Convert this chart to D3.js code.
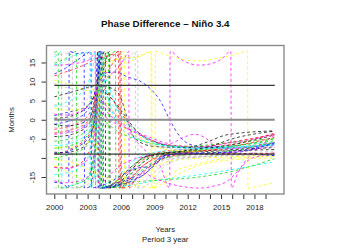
<!DOCTYPE html>
<html>
<head>
<meta charset="utf-8">
<script src="https://cdn.jsdelivr.net/npm/d3@7"></script>
<style>
body { margin: 0; background: #fff; }
svg { display: block; font-family: "Liberation Sans", Arial, Helvetica, sans-serif; }
</style>
</head>
<body>
<svg width="350" height="250"></svg>
<script>
// Axis ticks
var yearTicks = [2000, 2001, 2002, 2003, 2004, 2005, 2006, 2007, 2008, 2009,
                 2010, 2011, 2012, 2013, 2014, 2015, 2016, 2017, 2018, 2019];
var yearLabels = [2000, 2003, 2006, 2009, 2012, 2015, 2018];
var monthTicks = [-15, -10, -5, 0, 5, 10, 15];
var monthLabels = [-15, -5, 0, 5, 10, 15];

// Reference lines (months) and their span (years)
var refLevels = [9, 0, -9];
var refSpan = [2000, 2019.83];

// Phase difference series, [year, months]
var s01 = [[2000,-4.4],[2001,-4.2],[2002,-3.4],[2003,-1.5],[2003.5,1.5],[2003.8,7],[2003.95,14],[2004.05,17.9],[2004.09,-17.9],[2004.6,-17.6],[2005.5,-16.5],[2006.5,-13.5],[2008,-10],[2010,-8.6],[2013,-8.2],[2016,-7.8],[2019.8,-7.3]];
var s02 = [[2000,-3.5],[2001,-3],[2002,-2.2],[2003,-0.5],[2003.5,3],[2003.8,9],[2003.95,17.9],[2003.99,-17.9],[2004.6,-17.7],[2005.6,-16],[2006.5,-14],[2008,-10.5],[2010,-8.2],[2013,-7.6],[2016,-6.5],[2019.8,-3.5]];
var s03 = [[2000,-5.6],[2001,-5.3],[2002,-4.4],[2003,-2.5],[2003.6,2],[2003.85,9],[2004.1,17.9],[2004.14,-17.9],[2005,-17.2],[2006,-15],[2007.5,-11],[2009.5,-8.8],[2013,-8],[2016,-7],[2019.8,-5]];
var s04 = [[2000,1.1],[2001,1.8],[2002,2.5],[2003,3.6],[2003.5,5.5],[2003.75,10],[2003.9,17.9],[2003.94,-17.9],[2004.8,-17.5],[2006,-16],[2007.5,-14.5],[2009,-11],[2010,-9.2],[2013,-8.8],[2016,-8.3],[2019.8,-6.2]];
var s05 = [[2000,16.4],[2000.3,17],[2000.64,17.9],[2000.68,-17.9],[2001.5,-17.2],[2002.5,-16.2],[2003.2,-14.5],[2003.6,-9],[2003.85,3],[2004,17.9],[2004.04,-17.9],[2005,-17.6],[2006.5,-17.3],[2009,-16],[2014,-14],[2019.8,-11]];
var s06 = [[2000,14.3],[2001,14.4],[2002,14.8],[2003,15.5],[2003.5,17],[2003.68,17.9],[2003.72,-17.9],[2004.5,-16],[2005.5,-13],[2007,-10.5],[2009,-9.3],[2012,-9],[2016,-8.5],[2019.8,-6.8]];
var s07 = [[2000,10.4],[2001,9.5],[2002,8.6],[2003,7.6],[2004,9],[2005,11.5],[2006.3,14.3],[2007.5,16.3],[2008.7,17.9],[2008.74,-17.9],[2009.5,-16],[2011,-13.3],[2013,-11.5],[2016,-10],[2019.8,-9.6]];
var s08 = [[2000,17],[2001,17.3],[2001.63,17.9],[2001.67,-17.9],[2002.5,-17.8],[2003.4,-17.5],[2003.7,-10],[2003.88,5],[2004.02,17.9],[2004.06,-17.9],[2005,-17.7],[2006.5,-16],[2008,-12],[2010,-9.8],[2014,-9.4],[2019.8,-8.6]];
var s09 = [[2000,0.4],[2001,0.6],[2002,1.5],[2003,3.5],[2003.6,6.5],[2003.9,9],[2004.5,8.8],[2005.3,8],[2005.9,6.3],[2006.4,2],[2006.9,-3],[2007.5,-5.5],[2009,-7],[2012,-7.3],[2013.5,-6.1],[2015.6,-3.9],[2019.8,-2.9]];
var s10 = [[2000,-12.4],[2001,-12.6],[2002,-12],[2003,-9],[2003.6,-3],[2003.85,9],[2004.4,14],[2005.2,16.5],[2005.78,17.9],[2005.82,-17.9],[2006.5,-16.5],[2007.5,-13.5],[2009,-10],[2011,-8.5],[2015,-7.7],[2019.8,-6]];
var s11 = [[2000,14.8],[2001,16],[2001.98,17.9],[2002.02,-17.9],[2002.8,-16.5],[2003.4,-13],[2003.75,-4],[2003.95,9],[2004.3,17.9],[2004.34,-17.9],[2005,-17.8],[2006.5,-16.5],[2008.5,-16],[2013,-15],[2016,-13.5],[2019.8,-10.2]];
var s12 = [[2000,-16.4],[2000.8,-16.8],[2001.3,-17.9],[2001.34,17.9],[2002,17.3],[2002.6,17.6],[2002.68,17.9],[2002.72,-17.9],[2003.2,-17.5],[2003.6,-12],[2003.85,2],[2004.05,17.9],[2004.3,17.7],[2004.38,17.9],[2004.42,-17.9],[2005.2,-17.3],[2006.5,-16],[2008,-14.5],[2009.3,-11],[2011,-9],[2016,-8.8],[2019.8,-9.3]];
var s13 = [[2000,-14.4],[2001,-14],[2002,-13],[2003,-10],[2003.6,-2],[2003.85,9],[2004.1,15],[2004.5,12],[2005,8],[2006,1],[2007,-2.5],[2008.5,-5],[2010,-6.5],[2013,-7.2],[2016,-6.8],[2019.8,-5.8]];
var s14 = [[2000,-12.5],[2001,-12.8],[2002,-12.2],[2003,-10.5],[2003.6,-5],[2003.9,6],[2004.4,4.5],[2005.5,1.5],[2006.5,-2],[2007.5,-6],[2008.5,-9],[2009.5,-12],[2010.38,-17.9],[2010.42,17.9],[2011.3,16],[2012.2,14.7],[2013,14.3],[2014,14.6],[2015,15.8],[2015.88,17.9],[2015.92,-17.9],[2016.5,-14],[2017.4,-10],[2018.5,-7],[2019.8,-4]];
var s15 = [[2000,-10.4],[2001,-10.8],[2002,-11.5],[2003,-13],[2004,-14.5],[2005,-15.5],[2006.3,-16.5],[2007.5,-17.2],[2009.06,-17.9],[2009.1,17.9],[2010,17],[2011,16.2],[2012,15.6],[2013,15.4],[2014.5,16],[2016,16.9],[2017.38,17.9],[2017.42,-17.9],[2018.5,-17.3],[2019.8,-16.5]];
var s16 = [[2000,9.5],[2001,8.5],[2002,8],[2003,8.2],[2003.7,9],[2004.3,12],[2005,14.5],[2006,15.8],[2006.7,16],[2007.28,17.9],[2007.32,-17.9],[2008,-16.5],[2009.5,-12.5],[2011,-10],[2015,-9.5],[2019.8,-9]];
var s17 = [[2000,-8.5],[2001,-8.6],[2002,-8],[2003,-6],[2003.6,0],[2003.85,9],[2004.2,15.5],[2004.58,17.9],[2004.62,-17.9],[2005.3,-17.5],[2006,-16],[2007,-13],[2008,-9.8],[2010,-8.8],[2013,-8.4],[2019.8,-7.8]];
var s18 = [[2000,-2.5],[2001,-2],[2002,-1],[2003,1],[2003.6,5],[2003.88,9],[2004.3,11],[2005,13.5],[2005.6,16.5],[2006,17.9],[2006.04,-17.9],[2006.8,-15.5],[2008,-12],[2010,-9.3],[2013,-8.3],[2016,-7],[2019.8,-4.6]];
var s19 = [[2000,-7.5],[2001,-7],[2002,-6.2],[2003,-4],[2003.6,1],[2003.88,9],[2004.3,14],[2004.88,17.9],[2004.92,-17.9],[2005.5,-17.5],[2006.5,-15],[2008,-11],[2010,-9],[2014,-7.6],[2019.8,-5.5]];
var s20 = [[2000,-1.2],[2001,-0.6],[2002,0.3],[2003,2.5],[2003.6,6.5],[2003.9,10],[2004.5,12.3],[2005.6,12.5],[2006.5,11.3],[2007.85,9.9],[2008.75,7.8],[2009.5,5.1],[2010.4,-0.1],[2011.3,-4.4],[2012,-6.2],[2013.1,-7],[2016,-7.4],[2019.8,-6.5]];
var s21 = [[2000,3.5],[2001,4.5],[2002,6],[2003,9.5],[2003.5,14],[2003.7,17.9],[2003.74,-17.9],[2004.5,-17.5],[2005.5,-15.5],[2007,-11],[2009,-8.5],[2013,-7.6],[2019.8,-6.6]];
var s22 = [[2000,-16],[2001,-16.5],[2002,-16.2],[2003,-15],[2003.6,-9],[2003.9,3],[2004.5,1],[2005.5,-1],[2007,-2.8],[2008.5,-4.5],[2010.4,-6.2],[2011.5,-4.8],[2012.6,-3.8],[2013.5,-4.6],[2014.6,-7],[2016,-7.6],[2019.8,-6]];
var s23 = [[2000,3],[2001,2.5],[2002,2.6],[2003,4],[2003.6,7],[2003.9,9.5],[2004.6,13],[2005.5,15.5],[2006.28,17.9],[2006.32,-17.9],[2007,-17.5],[2008,-15],[2009,-12.5],[2011,-10.5],[2015,-9.8],[2019.8,-9.2]];
var s24 = [[2000,-17.8],[2001,-17.9],[2002,-17.7],[2003,-17],[2003.6,-12],[2003.9,6],[2004.1,17.9],[2004.14,-17.9],[2005,-17.6],[2006.5,-17.2],[2008,-14],[2010,-10.5],[2014,-9.5],[2019.8,-8.2]];
var s25 = [[2000,-1.2],[2001,-1.6],[2002,-1.3],[2003,0],[2003.6,4],[2003.9,9],[2004.4,7.6],[2005,6],[2006,2.5],[2007,-1.5],[2008,-4.5],[2009.5,-6.3],[2011,-7.2],[2013,-7.4],[2016,-6.5],[2019.8,-4]];
var s26 = [[2000,-9],[2001,-8.3],[2002,-6.8],[2003,-4.5],[2003.6,0],[2003.9,9],[2004.5,8],[2005.3,5],[2006.2,1],[2007.2,-2.5],[2008.5,-5],[2010,-6.5],[2013,-7],[2016,-5.8],[2019.8,-3.8]];
var s27 = [[2000,-10],[2001,-9.4],[2002,-8.5],[2003,-6.5],[2003.6,-2],[2003.85,4],[2004.2,1],[2005,-1.5],[2006,-3.5],[2007.5,-5.2],[2009,-6.4],[2012,-7],[2015,-6.2],[2019.8,-4.9]];
var s28 = [[2000,12],[2001,13.5],[2002,15.5],[2002.9,17.3],[2003.3,17.9],[2003.34,-17.9],[2003.8,-17.6],[2004.5,-17],[2005.5,-15.5],[2007,-13],[2008.8,-12],[2009.5,-10],[2011,-9],[2016,-8.9],[2019.8,-9.4]];
var s29 = [[2000,-6.8],[2001,-6.5],[2002,-5.5],[2003,-3.5],[2003.6,1],[2003.9,9],[2004.6,6],[2005.5,3],[2006.5,-0.5],[2007.5,-3.5],[2009,-6],[2011,-7.3],[2014,-7.6],[2019.8,-6.2]];
var s30 = [[2000,1.5],[2001,1.2],[2002,1.8],[2003,3.5],[2003.6,6],[2003.9,9],[2004.5,3.5],[2005.5,0],[2007,-3],[2008.5,-5],[2010,-6.5],[2013,-7.2],[2016,-6],[2019.8,-3.9]];
var s31 = [[2000,-7.4],[2001,-7.3],[2002,-7],[2003,-6],[2003.6,-2],[2003.88,8],[2004.5,5],[2005.5,1.5],[2007,-3],[2008.5,-6],[2010,-7.8],[2013,-8.4],[2016,-8.8],[2019.8,-9.2]];
var s32 = [[2000,-2],[2001,-2.4],[2002,-2.2],[2003,-0.8],[2003.6,3],[2003.9,9],[2004.6,4],[2005.6,0.5],[2007,-3.5],[2009,-6.8],[2012,-7.8],[2016,-7.3],[2019.8,-6.9]];
var s33 = [[2000,6],[2001,6.8],[2002,7.6],[2003,8.5],[2003.6,9],[2003.9,9.5],[2004.4,13],[2004.98,17.9],[2005.02,-17.9],[2005.7,-17.3],[2006.5,-15.5],[2007.5,-12.5],[2009,-9.3],[2011,-8.4],[2014,-7],[2016,-5],[2019.8,-3]];
var s34 = [[2000,11.5],[2001,12.5],[2002,13.5],[2003,14.8],[2003.7,16],[2004.5,16.5],[2005.3,17.2],[2005.9,17.9],[2005.94,-17.9],[2006.6,-17.6],[2007.5,-15],[2009,-11.5],[2011,-9.3],[2015,-9],[2019.8,-8.8]];
var s35 = [[2000,17.6],[2000.35,17.9],[2000.39,-17.9],[2001.2,-17.7],[2002,-16.8],[2002.9,-15.5],[2003.5,-10],[2003.8,-1],[2004,9],[2004.5,15],[2005,17],[2005.5,17.9],[2005.54,-17.9],[2006.3,-17.4],[2007.5,-14],[2009,-11],[2011,-9.5],[2015,-8.5],[2019.8,-6]];
var s36 = [[2000,-8.8],[2001,-8.5],[2002,-7.2],[2003,-5],[2003.6,-1],[2003.9,9],[2004.2,17.9],[2004.24,-17.9],[2005,-17.6],[2006.5,-16.6],[2008,-14.5],[2009,-12],[2010,-9.3],[2012,-8.7],[2016,-8.6],[2019.8,-6]];
var s37 = [[2000,14.4],[2000.7,15],[2001.3,16.2],[2002,17],[2002.8,17.5],[2003.2,17.9],[2003.24,-17.9],[2003.6,-15],[2003.85,-2],[2004,9],[2004.3,12],[2004.8,6],[2005.5,0],[2006.5,-3.5],[2008,-5.5],[2010,-6.8],[2013,-7.4],[2016,-7.2],[2019.8,-6.6]];
var s38 = [[2000,-3.8],[2001,-3.5],[2002,-2.8],[2003,-1],[2003.6,2.5],[2003.9,9],[2004.5,10.5],[2005.5,13],[2006.3,16],[2006.7,17.9],[2006.74,-17.9],[2007.3,-15.5],[2008,-14],[2009,-15.3],[2010.7,-17],[2012,-17.7],[2013.1,-17.9],[2014.3,-17.4],[2015.5,-16.2],[2016.5,-13.5],[2017.5,-10.5],[2018.5,-9.5],[2019.8,-8.7]];
var s39 = [[2000,-12],[2001,-13.3],[2002,-14.8],[2003,-16.3],[2003.6,-14],[2003.85,-4],[2004.05,9],[2004.6,14.5],[2005.5,15.8],[2006.4,16.2],[2007.5,16.5],[2008.5,17.6],[2008.76,17.9],[2008.8,-17.9],[2009.6,-17],[2011,-14.5],[2013,-12],[2016,-10.5],[2019.8,-10]];
var s40 = [[2000,4],[2001,3.5],[2002,4],[2003,5.5],[2003.6,8],[2003.9,9.5],[2004.5,11.5],[2005.5,14.5],[2006.3,15.8],[2007.1,16.2],[2007.5,17.9],[2007.54,-17.9],[2008.5,-16.8],[2010,-12],[2012,-10],[2016,-9.4],[2019.8,-9.3]];

var seriesList = [s01, s02, s03, s04, s05, s06, s07, s08, s09, s10,
                  s11, s12, s13, s14, s15, s16, s17, s18, s19, s20,
                  s21, s22, s23, s24, s25, s26, s27, s28, s29, s30,
                  s31, s32, s33, s34, s35, s36, s37, s38, s39, s40];

// R palette: black, red, green3, blue, cyan, magenta, yellow, gray
var palette = ["#000000", "#FF0000", "#00CD00", "#0000FF", "#00FFFF", "#FF00FF", "#FFFF00", "#BEBEBE"];

var box = {left: 46.5, right: 284, top: 45.5, bottom: 194};

var x = d3.scaleLinear().domain([1999.3, 2020.66]).range([box.left, box.right]);
var y = d3.scaleLinear().domain([-19.45, 19.45]).range([box.bottom, box.top]);

var svg = d3.select('svg');

svg.append('clipPath').attr('id', 'plotclip')
    .append('rect')
    .attr('x', box.left).attr('y', box.top)
    .attr('width', box.right - box.left).attr('height', box.bottom - box.top);

var line = d3.line()
    .x(function(d) { return x(d[0]); })
    .y(function(d) { return y(d[1]); })
    .curve(d3.curveMonotoneX);

svg.append('g').attr('clip-path', 'url(#plotclip)')
    .selectAll('path')
    .data(seriesList)
    .enter()
    .append('path')
    .attr('d', line)
    .attr('fill', 'none')
    .attr('stroke', function(d, i) { return palette[i % palette.length]; })
    .attr('stroke-width', 0.9)
    .attr('stroke-opacity', 0.8)
    .attr('stroke-dasharray', '3,2.5');

// horizontal reference lines
svg.append('g')
    .selectAll('line')
    .data(refLevels)
    .enter()
    .append('line')
    .attr('x1', x(refSpan[0])).attr('x2', x(refSpan[1]))
    .attr('y1', y).attr('y2', y)
    .attr('stroke', function(d) { return d === 0 ? '#8c8c8c' : '#3a3a3a'; })
    .attr('stroke-width', function(d) { return d === 0 ? 1.8 : 1.1; });

// axes
var xAxis = d3.axisBottom(x)
    .tickValues(yearTicks)
    .tickSize(5)
    .tickFormat(function(d) { return yearLabels.indexOf(d) >= 0 ? d : ''; });

var gx = svg.append('g')
    .attr('transform', 'translate(0,' + box.bottom + ')')
    .call(xAxis);
gx.select('.domain').remove();
gx.selectAll('.tick line').attr('stroke', '#333');
gx.selectAll('.tick text')
    .attr('y', 15.5).attr('dy', null)
    .style('font-size', '7.8px')
    .style('font-family', '"Liberation Sans", Arial, sans-serif')
    .attr('fill', '#222');

var yAxis = d3.axisLeft(y)
    .tickValues(monthTicks)
    .tickSize(5)
    .tickFormat(function(d) { return monthLabels.indexOf(d) >= 0 ? d : ''; });

var gy = svg.append('g')
    .attr('transform', 'translate(' + box.left + ',0)')
    .call(yAxis);
gy.select('.domain').remove();
gy.selectAll('.tick line').attr('stroke', '#333');
gy.selectAll('.tick text')
    .attr('x', null).attr('dy', null)
    .attr('text-anchor', 'middle')
    .attr('transform', 'translate(-11.5,0) rotate(-90)')
    .style('font-size', '7.8px')
    .style('font-family', '"Liberation Sans", Arial, sans-serif')
    .attr('fill', '#222');

// plot box
svg.append('rect')
    .attr('x', box.left).attr('y', box.top)
    .attr('width', box.right - box.left).attr('height', box.bottom - box.top)
    .attr('fill', 'none')
    .attr('stroke', '#8a8a8a')
    .attr('stroke-width', 1.4);

// titles
svg.append('text')
    .attr('x', (box.left + box.right) / 2).attr('y', 27)
    .attr('text-anchor', 'middle')
    .style('font-size', '9.8px').style('font-weight', 'bold')
    .attr('fill', '#111')
    .text('Phase Difference \u2013 Ni\u00f1o 3.4');

svg.append('text')
    .attr('x', (box.left + box.right) / 2).attr('y', 232)
    .attr('text-anchor', 'middle')
    .style('font-size', '7.8px').attr('fill', '#222')
    .text('Years');

svg.append('text')
    .attr('x', (box.left + box.right) / 2).attr('y', 241.5)
    .attr('text-anchor', 'middle')
    .style('font-size', '7.8px').attr('fill', '#222')
    .text('Period 3 year');

svg.append('text')
    .attr('transform', 'translate(14,120) rotate(-90)')
    .attr('text-anchor', 'middle')
    .style('font-size', '7.8px').attr('fill', '#222')
    .text('Months');
</script>
</body>
</html>
